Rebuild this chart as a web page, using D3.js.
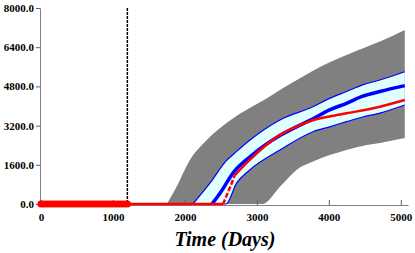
<!DOCTYPE html>
<html>
<head>
<meta charset="utf-8">
<script src="https://d3js.org/d3.v7.min.js"></script>
<style>
  body { margin: 0; background: #fff; }
  text { font-family: "Liberation Serif", "Times New Roman", serif; }
</style>
</head>
<body>
<div id="chart"></div>
<script>
var width = 415, height = 253;

// tick labels
var yTicks = [0, 1600, 3200, 4800, 6400, 8000];
var xTicks = [0, 1000, 2000, 3000, 4000, 5000];

// observed history (red dots) and the cutoff line
var histDays = [0, 40, 80, 120, 160, 200, 240, 280, 320, 360, 400, 440, 480, 520, 560, 600,
                640, 680, 720, 760, 800, 840, 880, 920, 960, 1000, 1040, 1080, 1120, 1160, 1200];
var histVals = [0, 0, 0, 0, 0, 0, 0, 0, 0, 0, 0, 0, 0, 0, 0, 0,
                0, 0, 0, 0, 0, 0, 0, 0, 0, 0, 0, 0, 0, 0, 0];
var cutoffDay = 1200;

// grey band (outer range)
var greyDays  = [1750, 1860, 2070, 2300, 2670, 3000, 3080, 3320, 3550, 3780, 4245, 4530, 4710, 5055];
var greyUpper = [0, 570, 1800, 2600, 3500, 4080, 4210, 4650, 5050, 5440, 6080, 6420, 6630, 7100];
var greyLower = [0, 0, 0, 0, 0, 0, 0, 700, 1390, 1730, 2200, 2410, 2490, 2690];

// cyan band (inner range) with blue edges
var bandDays  = [2110, 2350, 2570, 2720, 2900, 3320, 3780, 4010, 4245, 4470, 4710, 5055];
var bandUpper = [0, 860, 1750, 2150, 2600, 3430, 3970, 4310, 4590, 4860, 5060, 5400];
var bandLower = [0, 0, 0, 860, 1390, 2200, 2950, 3150, 3360, 3550, 3710, 4040];

// mean (thick blue)
var meanDays = [2375, 2490, 2670, 2900, 3320, 3550, 3780, 4010, 4245, 4470, 4710, 5055];
var meanVals = [0, 450, 1270, 1920, 2800, 3150, 3480, 3840, 4110, 4400, 4590, 4830];

// observed (red line)
var redFlatDays = [1200, 2530];
var redFlatVals = [0, 0];
var redDashDays = [2530, 2610, 2694];
var redDashVals = [0, 560, 1180];
var redDays = [2694, 2900, 3320, 3550, 3780, 4010, 4245, 4710, 5055];
var redVals = [1180, 1800, 2820, 3160, 3420, 3570, 3700, 3970, 4245];

var svg = d3.select("#chart").append("svg")
  .attr("width", width)
  .attr("height", height);

var x = d3.scaleLinear().domain([0, 5100]).range([41, 408]);
var y = d3.scaleLinear().domain([0, 8000]).range([204, 8]);

function zipped(days, vals) {
  return days.map(function(d, i) { return [d, vals[i]]; });
}

var greyArea = d3.area()
  .x(function(d, i) { return x(greyDays[i]); })
  .y0(function(d, i) { return y(greyLower[i]); })
  .y1(function(d, i) { return y(greyUpper[i]); })
  .curve(d3.curveMonotoneX);

svg.append("path")
  .attr("d", greyArea(greyDays))
  .attr("fill", "#808080");

var bandArea = d3.area()
  .x(function(d, i) { return x(bandDays[i]); })
  .y0(function(d, i) { return y(bandLower[i]); })
  .y1(function(d, i) { return y(bandUpper[i]); })
  .curve(d3.curveMonotoneX);

svg.append("path")
  .attr("d", bandArea(bandDays))
  .attr("fill", "#e0ffff");

var line = d3.line()
  .x(function(d) { return x(d[0]); })
  .y(function(d) { return y(d[1]); })
  .curve(d3.curveMonotoneX);

svg.append("path")
  .attr("d", line(zipped(bandDays, bandUpper)))
  .attr("fill", "none").attr("stroke", "#0000ff").attr("stroke-width", 1.2);
svg.append("path")
  .attr("d", line(zipped(bandDays, bandLower)))
  .attr("fill", "none").attr("stroke", "#0000ff").attr("stroke-width", 1.2);

svg.append("path")
  .attr("d", line(zipped(meanDays, meanVals)))
  .attr("fill", "none").attr("stroke", "#0000ff").attr("stroke-width", 3.5);

// axes
var yAxis = d3.axisLeft(y).tickValues(yTicks).tickSize(4).tickPadding(2)
  .tickFormat(d3.format(".1f"));
var gy = svg.append("g").attr("transform", "translate(40,0)").call(yAxis);

var xAxis = d3.axisBottom(x).tickValues(xTicks).tickSize(-5).tickPadding(8)
  .tickSizeOuter(0).tickFormat(d3.format("d"));
var gx = svg.append("g").attr("transform", "translate(0,205)").call(xAxis);

[gy, gx].forEach(function(g) {
  g.select(".domain").attr("stroke", "#808080");
  g.selectAll(".tick line").attr("stroke", "#606060");
  g.selectAll(".tick text")
    .attr("fill", "#000")
    .style("font-family", "'Liberation Serif', serif")
    .style("font-weight", "bold")
    .style("font-size", "11px");
});

// red observed line
svg.append("path")
  .attr("d", line(zipped(redFlatDays, redFlatVals)))
  .attr("fill", "none").attr("stroke", "#ff0000").attr("stroke-width", 2.5);
svg.append("path")
  .attr("d", line(zipped(redDashDays, redDashVals)))
  .attr("fill", "none").attr("stroke", "#ff0000").attr("stroke-width", 2.5)
  .attr("stroke-dasharray", "5,2");
svg.append("path")
  .attr("d", line(zipped(redDays, redVals)))
  .attr("fill", "none").attr("stroke", "#ff0000").attr("stroke-width", 2.5);

// cutoff line
svg.append("line")
  .attr("x1", x(cutoffDay)).attr("x2", x(cutoffDay))
  .attr("y1", y(8000)).attr("y2", y(0))
  .attr("stroke", "#000").attr("stroke-width", 1.5)
  .attr("stroke-dasharray", "3,1");

// history dots
svg.append("path")
  .attr("d", d3.line().x(function(d) { return x(d[0]); }).y(function(d) { return y(d[1]); })(zipped(histDays, histVals)))
  .attr("stroke", "#ff0000").attr("stroke-width", 2);
svg.selectAll("circle.hist")
  .data(zipped(histDays, histVals))
  .enter().append("circle")
  .attr("class", "hist")
  .attr("cx", function(d) { return x(d[0]); })
  .attr("cy", function(d) { return y(d[1]); })
  .attr("r", 3.6)
  .attr("fill", "#ff0000");

// axis title
svg.append("text")
  .attr("x", 225).attr("y", 246)
  .attr("text-anchor", "middle")
  .style("font-size", "20px")
  .style("font-weight", "bold")
  .style("font-style", "italic")
  .text("Time (Days)");
</script>
</body>
</html>
